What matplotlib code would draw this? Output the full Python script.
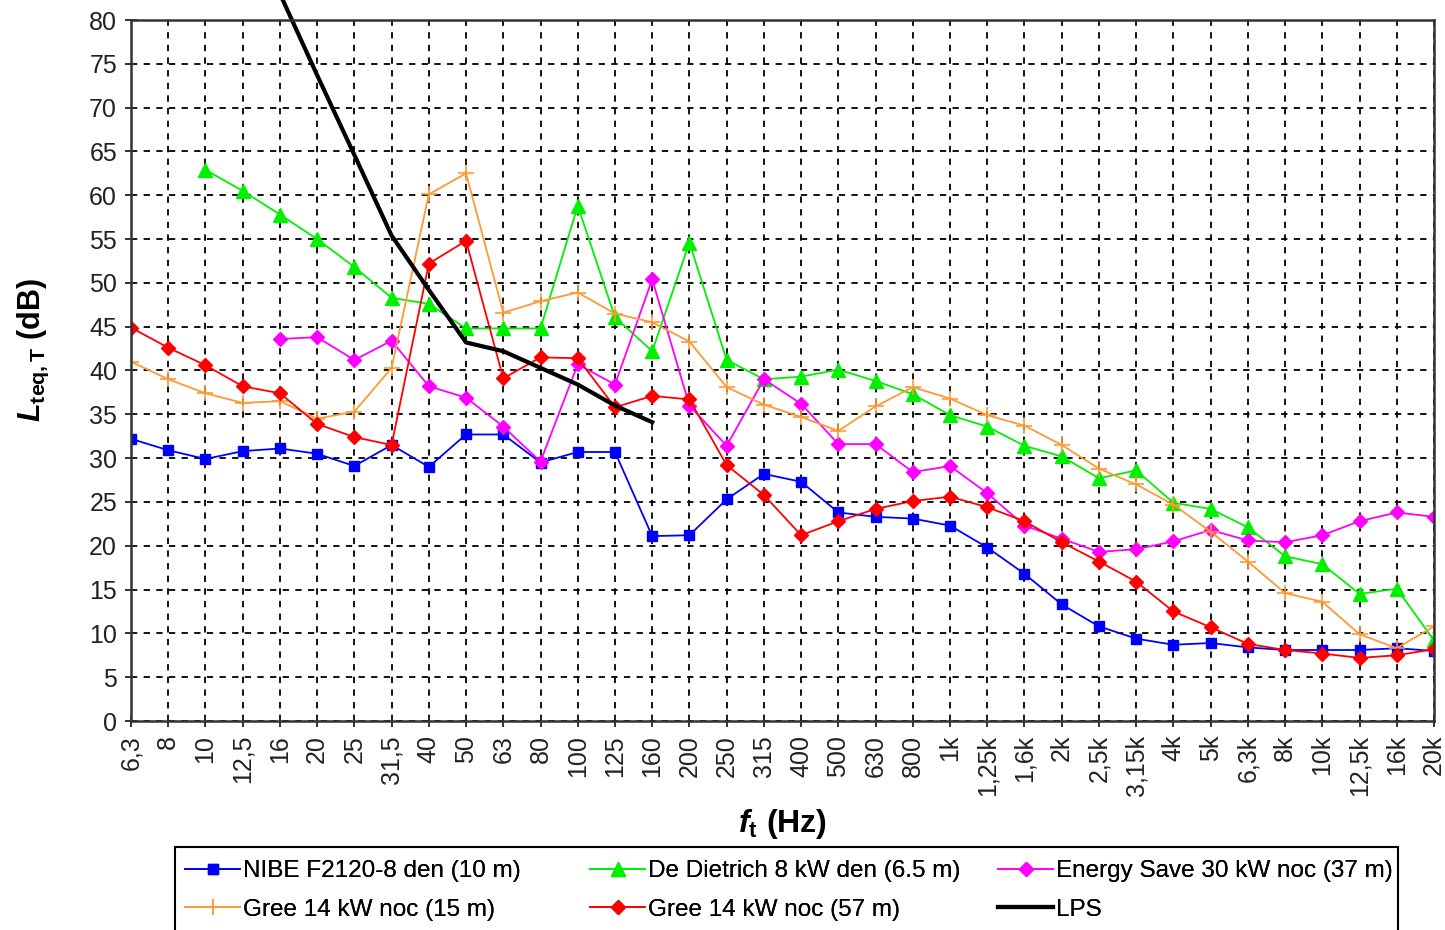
import numpy as np
import matplotlib
matplotlib.use("Agg")
import matplotlib.pyplot as plt
from matplotlib.patches import Rectangle

plt.rcParams['font.family'] = ['Liberation Sans', 'DejaVu Sans']
plt.rcParams['mathtext.fontset'] = 'custom'
plt.rcParams['mathtext.rm'] = 'Liberation Sans'
plt.rcParams['mathtext.it'] = 'Liberation Sans:italic'
plt.rcParams['mathtext.bf'] = 'Liberation Sans:bold'
plt.rcParams['mathtext.bfit'] = 'Liberation Sans:bold:italic'

nan = np.nan

freq_labels = ['6,3', '8', '10', '12,5', '16', '20', '25', '31,5', '40', '50', '63', '80',
               '100', '125', '160', '200', '250', '315', '400', '500', '630', '800', '1k',
               '1,25k', '1,6k', '2k', '2,5k', '3,15k', '4k', '5k', '6,3k', '8k', '10k',
               '12,5k', '16k', '20k']

nibe = [32.2, 30.9, 29.9, 30.8, 31.1, 30.5, 29.1, 31.5, 29.0, 32.7, 32.7, 29.5,
        30.7, 30.7, 21.1, 21.2, 25.3, 28.2, 27.3, 23.8, 23.3, 23.1, 22.3, 19.8,
        16.8, 13.3, 10.8, 9.4, 8.7, 8.9, 8.4, 8.1, 8.1, 8.1, 8.3, 8.0]

dietrich = [nan, nan, 62.9, 60.5, 57.8, 55.0, 51.8, 48.3, 47.6, 44.8, 44.8, 44.8,
            58.8, 46.1, 42.2, 54.6, 41.2, 39.0, 39.3, 40.1, 38.8, 37.3, 34.9, 33.6,
            31.4, 30.2, 27.7, 28.6, 24.9, 24.2, 22.1, 18.8, 17.9, 14.5, 15.1, 9.2]

energy = [nan, nan, nan, nan, 43.6, 43.8, 41.2, 43.4, 38.2, 36.9, 33.6, 29.6,
          40.7, 38.4, 50.4, 36.0, 31.4, 39.0, 36.2, 31.6, 31.6, 28.4, 29.1, 26.0,
          22.3, 20.8, 19.3, 19.6, 20.5, 21.8, 20.6, 20.4, 21.2, 22.8, 23.8, 23.3]

gree15 = [41.0, 39.0, 37.4, 36.3, 36.5, 34.5, 35.3, 40.3, 60.1, 62.5, 46.6, 47.9,
          48.9, 46.5, 45.5, 43.3, 38.1, 36.1, 34.7, 33.1, 35.9, 38.1, 36.8, 34.9,
          33.7, 31.5, 28.8, 27.0, 24.7, 21.6, 18.2, 14.6, 13.6, 9.9, 8.3, 10.8]

gree57 = [44.9, 42.6, 40.6, 38.2, 37.4, 33.9, 32.4, 31.5, 52.2, 54.8, 39.1, 41.5,
          41.4, 35.8, 37.1, 36.7, 29.2, 25.8, 21.2, 22.8, 24.2, 25.1, 25.6, 24.4,
          22.8, 20.4, 18.2, 15.9, 12.5, 10.7, 8.8, 8.1, 7.7, 7.2, 7.5, 8.2]

lps = [nan, nan, nan, nan, 83.0, 73.7, 64.6, 55.4, 49.2, 43.2, 42.2, 40.3,
       38.4, 36.0, 34.1] + [nan] * 21

x = np.arange(len(freq_labels))

W, H = 1445, 930
fig = plt.figure(figsize=(W / 100, H / 100), dpi=100)
ax = fig.add_axes([131 / W, 1 - 721 / H, (1434 - 131) / W, (721 - 20) / H])

l1, = ax.plot(x, nibe, color='#0000FF', lw=1.3, marker='s', ms=7.5, label='NIBE F2120-8 den (10 m)')
l2, = ax.plot(x, dietrich, color='#00F000', lw=1.3, marker='^', ms=9.5, label='De Dietrich 8 kW den (6.5 m)')
l3, = ax.plot(x, energy, color='#FF00FF', lw=1.3, marker='D', ms=7, label='Energy Save 30 kW noc (37 m)')
l4, = ax.plot(x, gree15, color='#FF9933', lw=1.3, marker='+', ms=11, mew=1.2, label='Gree 14 kW noc (15 m)')
l5, = ax.plot(x, gree57, color='#FF0000', lw=1.3, marker='D', ms=7, label='Gree 14 kW noc (57 m)')
l6, = ax.plot(x, lps, color='black', lw=3, clip_on=False, label='LPS')

ax.set_xlim(0, len(freq_labels) - 1)
ax.set_ylim(0, 80)
ax.set_yticks(np.arange(0, 81, 5))
ax.set_xticks(x)
ax.set_xticklabels(freq_labels, rotation=90, fontsize=18, color='#222222')
ax.tick_params(axis='y', labelsize=18, labelcolor='#222222')
ax.tick_params(direction='inout', length=8, width=1.3, color='#222222', pad=6)

ax.grid(True, color='black', linestyle=(0, (3.5, 3.5)), linewidth=1.3)
for s in ax.spines.values():
    s.set_linewidth(1.8)
    s.set_color('#333333')

ax.set_ylabel(r'$\mathbfit{L}_{\mathbf{teq,T}}$' + ' (dB)', fontsize=22, fontweight='bold')
ax.yaxis.set_label_coords((51 - 131) / 1303, 0.53)
ax.set_xlabel(r'$\mathbfit{f}_{\mathbf{t}}$' + ' (Hz)', fontsize=23, fontweight='bold', labelpad=8)

# legend: three columns placed like the original, one shared frame
columns = [(l1, l4), (l2, l5), (l3, l6)]
col_x = [178, 583, 991]
for (ha, hb), cx in zip(columns, col_x):
    lg = fig.legend(handles=[ha, hb], labels=[ha.get_label(), hb.get_label()],
                    loc='upper left', bbox_to_anchor=(cx / W, 1 - 853 / H),
                    borderaxespad=0, fontsize=17.5, frameon=False,
                    handlelength=2.25, borderpad=0.3, labelspacing=0.68,
                    handletextpad=0.12)
    fig.add_artist(lg)
fig.add_artist(Rectangle((175 / W, -0.02), (1398 - 175) / W, 0.02 + (930 - 847) / H,
                         transform=fig.transFigure, fill=False, edgecolor='black',
                         linewidth=1.5, clip_on=False))

fig.savefig('out.png', dpi=100)
